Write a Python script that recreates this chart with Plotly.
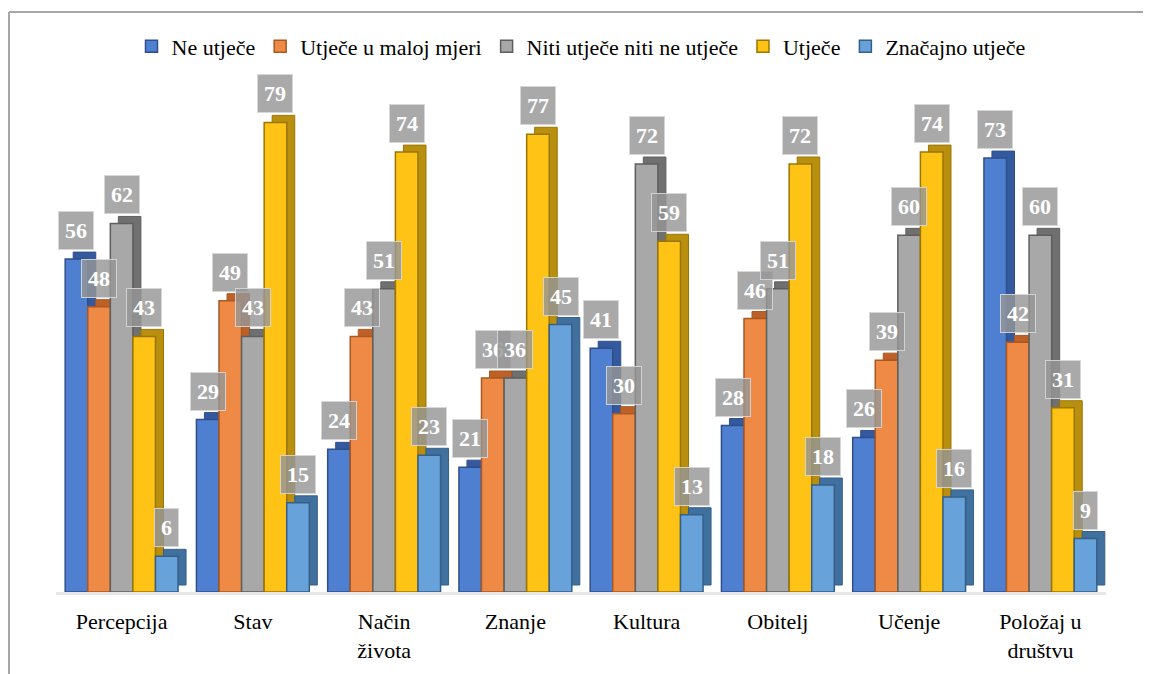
import plotly.graph_objects as go

categories = ["Percepcija", "Stav", "Način<br>života", "Znanje", "Kultura",
              "Obitelj", "Učenje", "Položaj u<br>društvu"]
series_names = ["Ne utječe", "Utječe u maloj mjeri", "Niti utječe niti ne utječe",
                "Utječe", "Značajno utječe"]
ne_utjece = [56, 29, 24, 21, 41, 28, 26, 73]
utjece_malo = [48, 49, 43, 36, 30, 46, 39, 42]
niti = [62, 43, 51, 36, 72, 51, 60, 60]
utjece = [43, 79, 74, 77, 59, 72, 74, 31]
znacajno = [6, 15, 23, 45, 13, 18, 16, 9]

values = [ne_utjece, utjece_malo, niti, utjece, znacajno]
fills = ["#4F7FD0", "#EE8A45", "#A8A8A8", "#FFC316", "#67A3DA"]
sides = ["#34599E", "#BD6128", "#707070", "#B88F0E", "#40709E"]
edges = ["#2F4F8A", "#A85820", "#5E5E5E", "#9A7600", "#355F88"]

SERIF = "'Liberation Serif', 'Times New Roman', 'DejaVu Serif', serif"
W, H = 1151, 674
ML, MR, MT, MB = 48, 53, 49, 90   # page body has an 8px margin
YMAX = 90
bargap = 0.14
n = len(series_names)
plot_w = W - ML - MR
plot_h = H - MT - MB
cat_px = plot_w / len(categories)
bw = (1 - bargap) / n            # bar width in category units
bar_px = bw * cat_px
depth_x = 8 / cat_px             # pseudo-3D depth (style)
depth_y = 7 * YMAX / plot_h

fig = go.Figure()
# depth (side/top faces) drawn first, behind the front faces
for i, vals in enumerate(values):
    fig.add_trace(go.Bar(
        x=categories, y=vals, base=depth_y, width=bw,
        offset=-(1 - bargap) / 2 + i * bw + depth_x,
        marker=dict(color=sides[i], line=dict(color=edges[i], width=1)),
        showlegend=False, hoverinfo="skip",
    ))
for i, (name, vals) in enumerate(zip(series_names, values)):
    fig.add_trace(go.Bar(
        name=name, x=categories, y=vals, width=bw,
        offset=-(1 - bargap) / 2 + i * bw,
        marker=dict(color=fills[i], line=dict(color=edges[i], width=1.5)),
    ))

annotations = []
for i, vals in enumerate(values):
    for c, v in zip(categories, vals):
        annotations.append(dict(
            x=c, y=v, xref="x", yref="y",
            text="<b>%d</b>" % v, showarrow=False,
            xshift=(i - 2) * bar_px, yshift=9,
            yanchor="bottom", xanchor="center",
            font=dict(family=SERIF, size=22, color="white"),
            bgcolor="rgba(150,150,150,0.82)",
            bordercolor="rgba(215,215,215,0.9)", borderwidth=1, borderpad=6,
        ))

# outer frame (partially cut at right/bottom like the reference)
fx0 = (1 - ML) / plot_w
fy1 = (H - MB - 4) / plot_h
shapes = [
    dict(type="line", xref="paper", yref="paper", x0=fx0, x1=1.2, y0=fy1, y1=fy1,
         line=dict(color="#A6A6A6", width=2)),
    dict(type="line", xref="paper", yref="paper", x0=fx0, x1=fx0, y0=fy1, y1=-0.3,
         line=dict(color="#A6A6A6", width=2)),
]

fig.update_layout(
    width=W, height=H,
    margin=dict(l=ML, r=MR, t=MT, b=MB, autoexpand=False),
    barmode="overlay",
    plot_bgcolor="white", paper_bgcolor="white",
    font=dict(family=SERIF, size=22, color="black"),
    legend=dict(orientation="h", x=0.5, xanchor="center", y=0.943, yanchor="middle",
                yref="container", font=dict(family=SERIF, size=22), itemwidth=30,
                traceorder="normal"),
    xaxis=dict(showgrid=False, showline=True, linecolor="#E6E6E6", linewidth=3,
               ticks="", tickfont=dict(family=SERIF, size=22), ticklabelstandoff=8,
               range=[-0.5, 7.5], automargin=False),
    yaxis=dict(visible=False, range=[0, YMAX], automargin=False),
    annotations=annotations,
    shapes=shapes,
)

fig.write_html("out.html")
